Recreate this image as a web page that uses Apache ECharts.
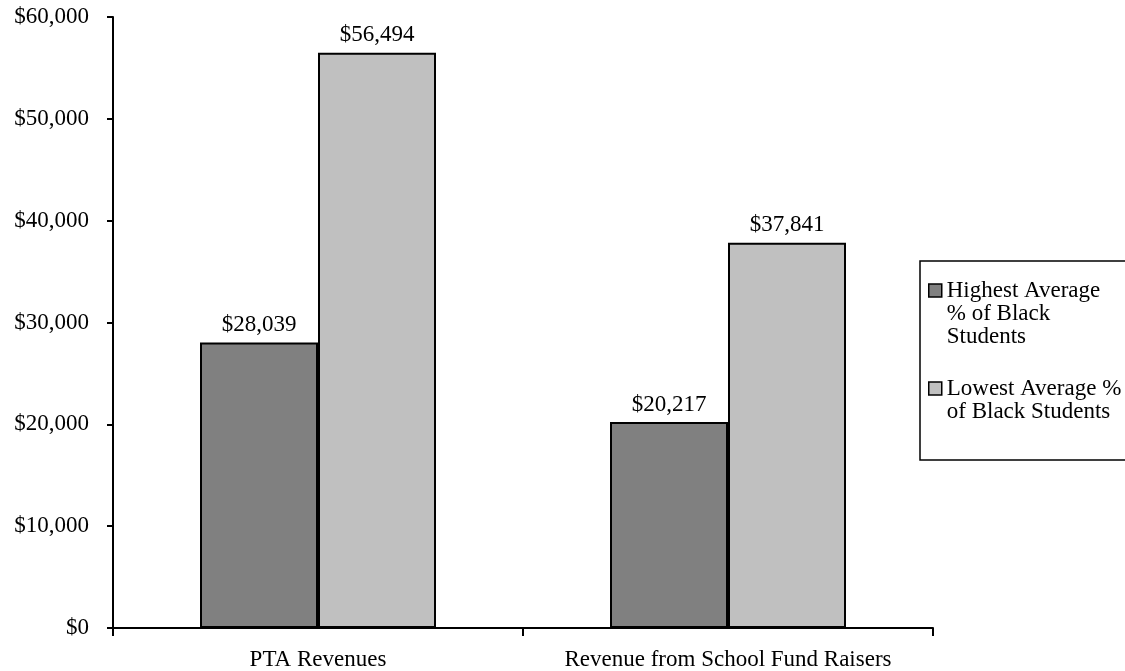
<!DOCTYPE html>
<html>
<head>
<meta charset="utf-8">
<script src="https://cdn.jsdelivr.net/npm/echarts@6/dist/echarts.min.js"></script>
<style>
  html, body { margin: 0; padding: 0; background: #fff; }
  #chart { width: 1125px; height: 671px; }
</style>
</head>
<body>
<div id="chart"></div>
<script>
// chart data
const categories = ['PTA Revenues', 'Revenue from School Fund Raisers'];
const seriesNames = ['Highest Average % of Black Students', 'Lowest Average % of Black Students'];
// wrapped legend text (leading blank lines keep the icon next to the first line)
const legendLabels = ['\n\nHighest Average\n% of Black\nStudents', '\nLowest Average %\nof Black Students'];
const highestBlack = [28039, 20217];
const lowestBlack = [56494, 37841];
const yMin = 0;
const yMax = 60000;
const yStep = 10000;

const font = '"Liberation Serif", "Times New Roman", serif';
const money = (v) => '$' + Number(v).toLocaleString('en-US');

const chart = echarts.init(document.getElementById('chart'));

const barStyle = (color) => ({
    color: color,
    borderColor: '#000',
    borderWidth: 2
});

const valueLabel = {
    show: true,
    position: 'top',
    distance: 6,
    fontFamily: font,
    fontSize: 23,
    color: '#000',
    formatter: (p) => money(p.value)
};

const option = {
    animation: false,
    textStyle: { fontFamily: font, color: '#000' },
    grid: {
        left: 113,
        right: 192,
        top: 17,
        bottom: 43,
        containLabel: false
    },
    graphic: [
        {
            // legend frame
            type: 'rect',
            shape: { x: 920, y: 261, width: 300, height: 199 },
            style: { fill: 'none', stroke: '#000', lineWidth: 1.5 }
        }
    ],
    legend: {
        orient: 'vertical',
        left: 928,
        top: 233,
        padding: 0,
        itemGap: 6,
        itemWidth: 13,
        itemHeight: 13,
        icon: 'rect',
        data: seriesNames,
        itemStyle: { borderColor: '#000', borderWidth: 1.5 },
        formatter: (name) => legendLabels[seriesNames.indexOf(name)],
        textStyle: {
            fontFamily: font,
            fontSize: 23,
            lineHeight: 23,
            color: '#000'
        }
    },
    xAxis: {
        type: 'category',
        data: categories,
        boundaryGap: true,
        axisLine: { lineStyle: { color: '#000', width: 2 } },
        axisTick: { show: true, alignWithLabel: false, length: 8, lineStyle: { color: '#000', width: 2 } },
        axisLabel: { interval: 0, margin: 20, fontFamily: font, fontSize: 23, color: '#000' }
    },
    yAxis: {
        type: 'value',
        min: yMin,
        max: yMax,
        interval: yStep,
        splitLine: { show: false },
        axisLine: { show: true, lineStyle: { color: '#000', width: 2 } },
        axisTick: { show: true, length: 6, lineStyle: { color: '#000', width: 2 } },
        axisLabel: {
            margin: 24,
            fontFamily: font,
            fontSize: 23,
            color: '#000',
            formatter: money
        }
    },
    series: [
        {
            name: seriesNames[0],
            type: 'bar',
            data: highestBlack,
            barWidth: 118,
            barGap: '0%',
            itemStyle: barStyle('#808080'),
            label: valueLabel
        },
        {
            name: seriesNames[1],
            type: 'bar',
            data: lowestBlack,
            barWidth: 118,
            barGap: '0%',
            itemStyle: barStyle('#c0c0c0'),
            label: valueLabel
        }
    ]
};

chart.setOption(option);
</script>
</body>
</html>
